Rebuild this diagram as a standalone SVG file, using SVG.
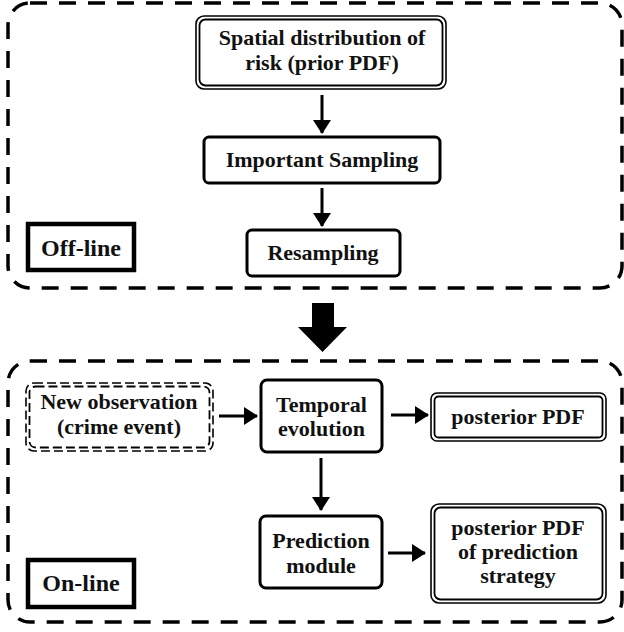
<svg xmlns="http://www.w3.org/2000/svg" width="624" height="632" viewBox="0 0 624 632">
<defs>
<style>
.cont{fill:none;stroke:#000;stroke-width:3.5;stroke-dasharray:17 12}
.box{fill:#fff;stroke:#000;stroke-width:3}
.lbl{fill:#fff;stroke:#000;stroke-width:4.5}
.dout{fill:#fff;stroke:#000;stroke-width:1.6}
.din{fill:none;stroke:#000;stroke-width:1.8}
.dash1{fill:#fff;stroke:#000;stroke-width:1.6;stroke-dasharray:9 4}
.dash2{fill:none;stroke:#000;stroke-width:1.8;stroke-dasharray:9 4}
text{font-family:"Liberation Serif","Times New Roman",serif;font-weight:bold;font-size:22px;fill:#111;text-anchor:middle}
.big{font-size:24px}
.conn line{stroke:#000;stroke-width:3}
</style>
<marker id="ah" markerWidth="15" markerHeight="20" refX="13" refY="9" orient="auto" markerUnits="userSpaceOnUse">
<path d="M0,0 L14,9 L0,18 Z" fill="#000"/>
</marker>
</defs>
<rect width="624" height="632" fill="#fff"/>

<g id="offline-container">
<rect class="cont" x="8" y="3" width="614" height="285" rx="22"/>
</g>
<g id="online-container">
<rect class="cont" x="8" y="361" width="614" height="261" rx="22"/>
</g>

<g id="spatial">
<rect class="dout" x="196" y="16" width="250" height="73" rx="8"/>
<rect class="din" x="199.5" y="19.5" width="243" height="66" rx="6"/>
<text x="322" y="45">Spatial distribution of</text>
<text x="322" y="70">risk (prior PDF)</text>
</g>
<g id="important">
<rect class="box" x="204" y="137" width="236" height="46" rx="5"/>
<text x="322" y="167">Important Sampling</text>
</g>
<g id="resampling">
<rect class="box" x="247" y="230" width="153" height="46" rx="5"/>
<text x="323" y="260">Resampling</text>
</g>
<g id="offline">
<rect class="lbl" x="28" y="224" width="106" height="46"/>
<text class="big" x="81" y="256">Off-line</text>
</g>

<g id="newobs">
<rect class="dash1" x="26" y="383" width="187" height="68" rx="8"/>
<rect class="dash2" x="29.5" y="386.5" width="180" height="61" rx="6"/>
<text x="119" y="409">New observation</text>
<text x="119" y="434">(crime event)</text>
</g>
<g id="temporal">
<rect class="box" x="261" y="380" width="121" height="72" rx="6"/>
<text x="321.5" y="412">Temporal</text>
<text x="321.5" y="436">evolution</text>
</g>
<g id="posterior">
<rect class="dout" x="431" y="393" width="175" height="48" rx="6"/>
<rect class="din" x="434.5" y="396.5" width="168" height="41" rx="4"/>
<text x="518" y="424">posterior PDF</text>
</g>
<g id="prediction">
<rect class="box" x="260" y="516" width="122" height="72" rx="6"/>
<text x="321" y="548">Prediction</text>
<text x="321" y="573">module</text>
</g>
<g id="posterior-pred">
<rect class="dout" x="431" y="504" width="175" height="99" rx="8"/>
<rect class="din" x="434.5" y="507.5" width="168" height="92" rx="6"/>
<text x="518" y="535">posterior PDF</text>
<text x="518" y="559">of prediction</text>
<text x="518" y="583">strategy</text>
</g>
<g id="online">
<rect class="lbl" x="28" y="560" width="106" height="47"/>
<text class="big" x="81" y="591">On-line</text>
</g>

<g class="conn" id="connectors">
<line x1="322" y1="95" x2="322" y2="133" marker-end="url(#ah)"/>
<line x1="322" y1="188" x2="322" y2="226" marker-end="url(#ah)"/>
<line x1="219" y1="416" x2="257" y2="416" marker-end="url(#ah)"/>
<line x1="391" y1="415" x2="428" y2="415" marker-end="url(#ah)"/>
<line x1="321" y1="458" x2="321" y2="510" marker-end="url(#ah)"/>
<line x1="388" y1="553" x2="425" y2="553" marker-end="url(#ah)"/>
<path d="M312,303 H334 V327 H347 L322.5,352 L298,327 H312 Z" fill="#000"/>
</g>
</svg>
